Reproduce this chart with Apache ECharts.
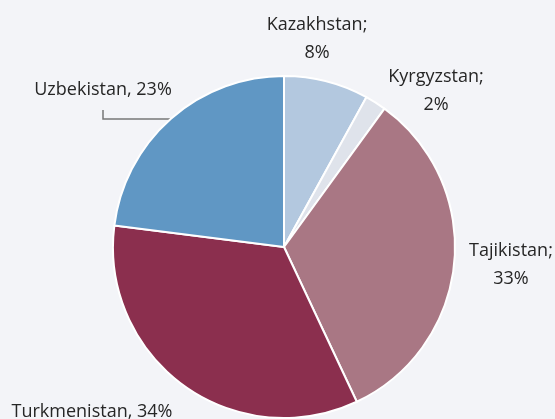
<!DOCTYPE html>
<html>
<head>
<meta charset="utf-8">
<script src="https://cdn.jsdelivr.net/npm/echarts@6/dist/echarts.min.js"></script>
<style>
  html, body { margin: 0; padding: 0; background: #f3f4f8; }
  #chart { width: 555px; height: 419px; }
</style>
</head>
<body>
<div id="chart"></div>
<script>
// shares by country, clockwise from 12 o'clock
const countries = ['Kazakhstan', 'Kyrgyzstan', 'Tajikistan', 'Turkmenistan', 'Uzbekistan']
const shares = [8, 2, 33, 34, 23]
const colors = ['#b3c8df', '#dfe3eb', '#a97784', '#8b2f4e', '#6097c4']

// label text: some are split on two lines with ";" others use ","
const twoLine = [true, true, true, false, false]

// label anchor points (center of text block)
const labelPos = [
  [317, 39],
  [436, 91],
  [511, 265],
  [92, 412],
  [103, 90]
]

const chart = echarts.init(document.getElementById('chart'))

chart.setOption({
  backgroundColor: '#f3f4f8',
  series: [
    {
      type: 'pie',
      center: [284, 247],
      radius: 171,
      startAngle: 90,
      clockwise: true,
      animation: false,
      itemStyle: { borderColor: '#ffffff', borderWidth: 2 },
      label: {
        show: true,
        color: '#262626',
        fontFamily: 'Open Sans',
        fontSize: 18,
        lineHeight: 28,
        align: 'center',
        overflow: 'none',
        formatter: p => twoLine[p.dataIndex]
          ? p.name + ';\n' + p.value + '%'
          : p.name + ', ' + p.value + '%'
      },
      labelLine: {
        show: true,
        lineStyle: { color: '#777777', width: 1.5 }
      },
      labelLayout: p => {
        const i = p.dataIndex
        const out = {
          x: labelPos[i][0],
          y: labelPos[i][1],
          align: 'center',
          verticalAlign: 'middle',
          width: 200
        }
        if (i === 4) {
          out.labelLinePoints = [[170, 119], [103, 119], [103, 110]]
        } else {
          out.labelLinePoints = [[0, 0], [0, 0], [0, 0]]
        }
        return out
      },
      data: countries.map((c, i) => ({
        name: c,
        value: shares[i],
        itemStyle: { color: colors[i] },
        labelLine: { show: i === 4 }
      }))
    }
  ]
})
</script>
</body>
</html>
